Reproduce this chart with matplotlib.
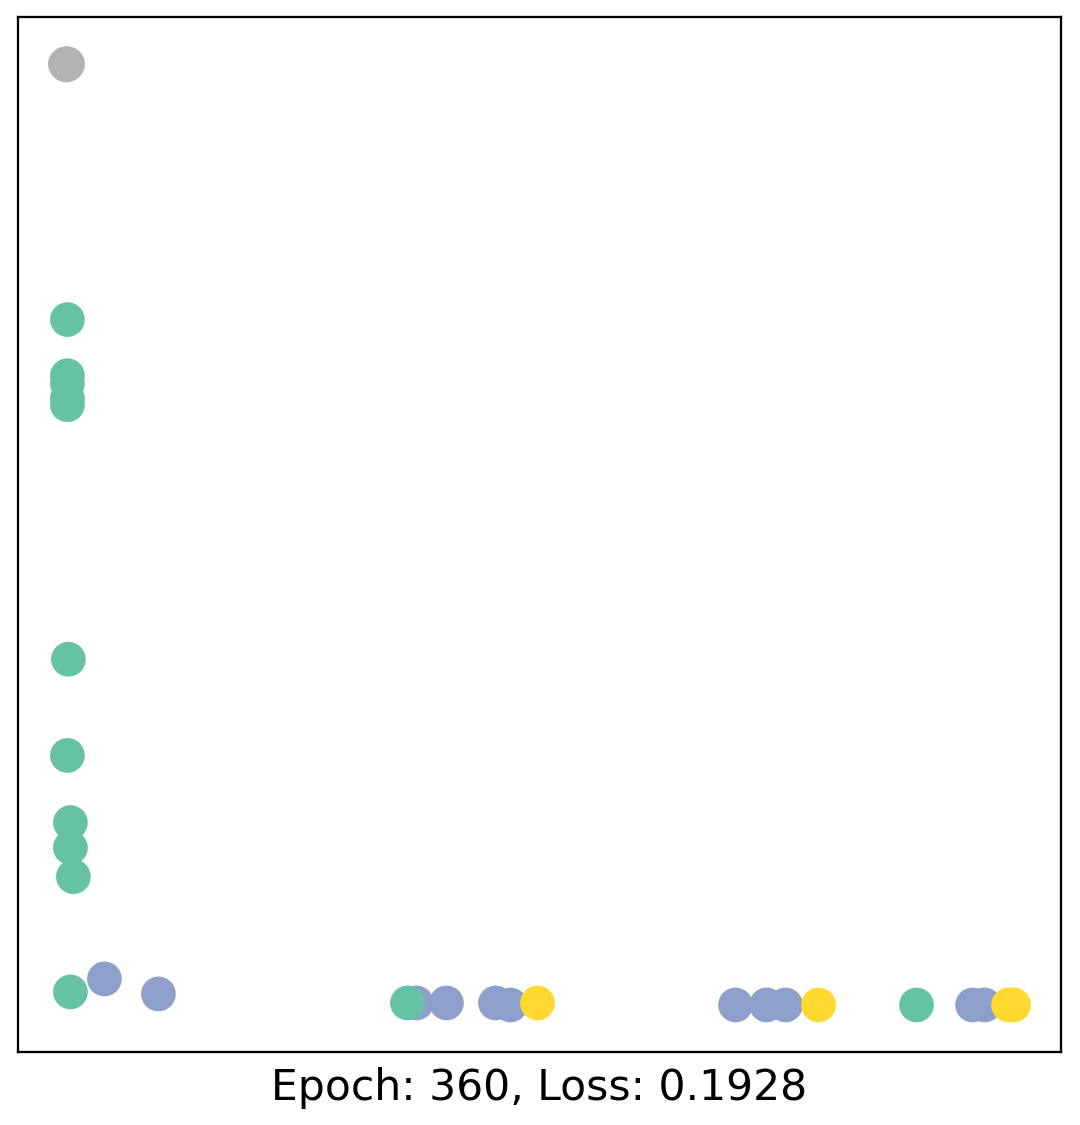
import matplotlib
matplotlib.use("Agg")
import matplotlib.pyplot as plt

# 2-d node embeddings (34 nodes) and their class labels
h_x = [0.065, 0.066, 0.066, 0.067, 0.067, 0.066,
       0.104, 0.158, 0.416, 0.446, 0.495, 0.510, 0.735, 0.766, 0.785, 0.972, 0.984,
       0.067, 0.067, 0.067, 0.067, 0.067, 0.068, 0.067, 0.070, 0.070, 0.073, 0.070, 0.407, 0.916,
       0.537, 0.818, 1.008, 1.013]
h_y = [1.059, 1.059, 1.059, 1.059, 1.059, 1.058,
       0.146, 0.131, 0.122, 0.122, 0.122, 0.120, 0.120, 0.120, 0.120, 0.120, 0.120,
       0.804, 0.748, 0.740, 0.725, 0.719, 0.465, 0.369, 0.302, 0.277, 0.248, 0.133, 0.122, 0.120,
       0.122, 0.120, 0.120, 0.120]
labels = [3, 3, 3, 3, 3, 3,
          1, 1, 1, 1, 1, 1, 1, 1, 1, 1, 1,
          0, 0, 0, 0, 0, 0, 0, 0, 0, 0, 0, 0, 0,
          2, 2, 2, 2]
epoch = 360
loss = 0.1928

fig = plt.figure(figsize=(7.2, 7.5), dpi=150)
ax = fig.add_axes([18 / 1080, 1 - 1052 / 1125, 1043 / 1080, 1035 / 1125])
ax.scatter(h_x, h_y, s=245, c=labels, cmap="Set2")
ax.set_xticks([])
ax.set_yticks([])
for sp in ax.spines.values():
    sp.set_linewidth(1.1)
ax.set_xlabel(f"Epoch: {epoch}, Loss: {loss:.4f}", fontsize=20.4, labelpad=7)

fig.savefig("out.png", dpi=150)
